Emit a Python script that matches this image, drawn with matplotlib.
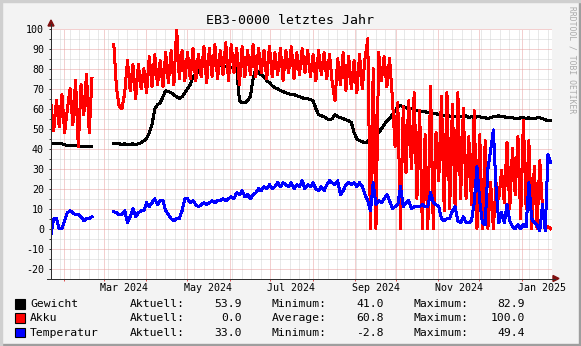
import numpy as np
import pandas as pd
import matplotlib
matplotlib.use('Agg')
import matplotlib.pyplot as plt
import matplotlib.dates as mdates
from matplotlib.lines import Line2D
from matplotlib.patches import Polygon, Rectangle
from matplotlib.ticker import NullFormatter
from matplotlib.transforms import blended_transform_factory

nan = np.nan
W, H = 581, 346
MONO = 'DejaVu Sans Mono'

# Messwerte alle 2 Tage ab 22.01.2024
start = '2024-01-22 06:00'
gewicht = [
    42.7, 42.5, 42.5, 42.5, 42.5, 42.0, 41.5, 41.5, 41.5, 41.5,
    41.5, 41.0, 41.0, 41.0, 41.0, 41.0, nan, nan, nan, nan,
    nan, nan, nan, 42.5, 42.5, 42.5, 42.0, 42.5, 42.0, 42.0,
    42.5, 42.0, 42.5, 43.0, 44.0, 45.0, 48.0, 52.0, 60.0, 62.0,
    63.0, 66.0, 69.0, 68.5, 68.0, 67.0, 66.0, 65.0, 66.0, 68.0,
    70.0, 72.0, 76.0, 77.0, 79.0, 81.0, 82.0, 82.5, 82.9, 82.5,
    82.0, 82.0, 81.5, 81.5, 81.0, 81.0, 80.5, 80.5, 80.0, 64.0,
    63.0, 63.0, 64.0, 66.0, 75.0, 80.0, 78.0, 77.0, 76.0, 74.0,
    73.0, 71.5, 70.5, 70.0, 69.0, 68.5, 68.0, 67.5, 67.0, 67.0,
    66.5, 66.0, 65.5, 65.0, 65.0, 64.5, 64.0, 60.0, 57.0, 56.5,
    56.0, 55.0, 54.5, 55.0, 57.0, 56.0, 55.5, 55.0, 54.5, 54.0,
    53.0, 48.0, 45.0, 44.0, 43.5, 43.0, 43.5, 45.0, 47.0, 47.5,
    48.0, 50.0, 52.0, 54.0, 55.0, 57.0, 59.0, 61.0, 61.5, 61.0,
    60.5, 60.0, 60.0, 59.5, 59.0, 59.0, 58.5, 58.5, 58.0, 58.0,
    57.5, 57.5, 57.0, 57.0, 56.5, 57.0, 56.0, 56.5, 56.0, 56.5,
    56.0, 56.0, 56.5, 55.5, 56.0, 55.5, 56.0, 56.0, 55.5, 55.5,
    55.0, 55.5, 56.0, 56.0, 56.5, 56.0, 56.0, 55.5, 55.5, 55.5,
    55.0, 55.0, 55.5, 55.5, 55.0, 55.5, 55.0, 55.0, 55.5, 55.5,
    55.0, 54.5, 54.0, 53.9,
]
akku = [
    62, 49, 64, 51, 67, 48, 60, 70, 52, 74,
    41, 72, 57, 77, 48, 75, nan, nan, nan, nan,
    nan, nan, nan, 92, 70, 61, 60, 68, 84, 69,
    82, 65, 82, 70, 80, 68, 86, 71, 87, 72,
    84, 71, 88, 73, 89, 72, 100, 75, 89, 74,
    88, 75, 90, 74, 87, 76, 91, 73, 90, 76,
    92, 75, 89, 77, 93, 74, 92, 78, 90, 72,
    91, 76, 89, 77, 92, 76, 90, 78, 89, 75,
    91, 76, 88, 77, 90, 74, 89, 78, 91, 75,
    88, 77, 90, 78, 89, 76, 87, 74, 89, 77,
    88, 75, 87, 73, 64, 85, 72, 88, 69, 86,
    70, 84, 68, 87, 70, 85, 95, 0, 80, 0,
    88, 74, 86, 71, 85, 66, 41, 63, 0, 61,
    28, 64, 30, 68, 15, 59, 0, 47, 0, 71,
    0, 48, 24, 66, 9, 68, 10, 62, 10, 68,
    15, 60, 15, 46, 12, 59, 0, 47, 0, 44,
    0, 23, 0, 23, 15, 29, 13, 43, 10, 40,
    17, 46, 5, 54, 10, 44, 0, 31, 0, 34,
    10, 0, 1, 0.0,
]
temperatur = [
    -2.8, 5, 5, 0, 0, 4, 8, 9, 8, 7,
    7, 6, 4, 5, 5, 6, nan, nan, nan, nan,
    nan, nan, nan, 8.5, 8, 7, 7, 9, 3, 6,
    10, 6, 8, 9, 9, 13, 11, 13, 15, 12,
    14, 14, 9, 7, 5, 4, 5, 5, 9, 15,
    15, 13, 14, 12, 11, 12, 13, 12, 13, 14,
    13, 14, 14, 15, 14, 15, 16, 15, 18, 17,
    19, 16, 17, 15, 17, 18, 20, 19, 21, 20,
    22, 20, 21, 23, 21, 23, 22, 21, 23, 20,
    22, 21, 24, 20, 22, 21, 23, 20, 19, 21,
    19, 22, 24, 23, 22, 24, 17, 19, 22, 23,
    22, 23, 21, 23, 21, 17, 14, 9, 23, 12,
    14, 13, 15, 17, 14, 10, 11, 12, 21, 11,
    13, 14, 10, 11, 11, 11, 12, 11, 11, 18,
    13, 12, 11, 5, 4, 5, 5, 9, 11, 4,
    3, 6, 3, 3, 4, 13, 31, 14, 3, 2,
    30, 39, 49.4, 20, 3, 8, 3, 12, 4, 1,
    0, 2, 0, 2, 1, 23, 5, 3, 2, -1,
    12, -1, 37, 33.0,
]
akku_average = 60.8

monate = ['Mar 2024', 'May 2024', 'Jul 2024', 'Sep 2024', 'Nov 2024', 'Jan 2025']
monat_start = ['2024-03-01', '2024-05-01', '2024-07-01', '2024-09-01', '2024-11-01', '2025-01-01']

namen = ['Gewicht', 'Akku', 'Temperatur']
farben = ['#000000', '#FF0000', '#0000FF']


def fig_xy(x, y):
    # Pixel (oben links) -> Figure-Koordinaten
    return x / W, 1 - y / H


fig = plt.figure(figsize=(W / 100, H / 100), dpi=100)
fig.patch.set_facecolor('#F3F3F3')
ax = fig.add_axes([51 / W, 1 - 278.7 / H, 500.7 / W, 250 / H])
ax.set_facecolor('white')

tage = pd.date_range(start, periods=len(gewicht), freq='2D')
for i, werte in enumerate([gewicht, akku, temperatur]):
    ax.plot(tage, np.array(werte, dtype=float), color=farben[i], lw=1.44,
            antialiased=False, zorder=3 + i)

ax.set_xlim(pd.Timestamp('2024-01-22 06:00'), pd.Timestamp('2025-01-22 23:30'))
ax.set_ylim(-25, 100)

ax.xaxis.set_major_locator(mdates.MonthLocator())
ax.xaxis.set_minor_locator(mdates.WeekdayLocator(byweekday=mdates.MO))
ax.xaxis.set_major_formatter(NullFormatter())
ax.set_yticks(range(-20, 101, 10))
ax.set_yticks(range(-15, 100, 10), minor=True)
ax.set_yticklabels([str(v) for v in range(-20, 101, 10)], family=MONO, fontsize=7.2)

ax.set_axisbelow(True)
ax.grid(which='minor', color='#D2D2D2', ls=(0, (1, 1)), lw=0.72)
ax.grid(which='major', color='#E9A0A0', ls=(0, (1, 1)), lw=0.72)
ax.tick_params(axis='x', which='major', length=1.5, width=0.72, color='#E05050')
ax.tick_params(axis='x', which='minor', length=0)
ax.tick_params(axis='y', which='both', length=1.5, width=0.72, color='#303030', pad=3.6)
for s in ax.spines.values():
    s.set_visible(False)

# Achsen mit Pfeilen
fig.add_artist(Line2D([51 / W, 51 / W], [1 - 279 / H, 1 - 24 / H], color='#303030', lw=0.72))
fig.add_artist(Line2D([47 / W, 555 / W], [1 - 278.5 / H, 1 - 278.5 / H], color='#303030', lw=0.72))
fig.add_artist(Polygon([fig_xy(48, 26), fig_xy(54, 26), fig_xy(51, 20)], closed=True,
                       transform=fig.transFigure, color='#7F1010'))
fig.add_artist(Polygon([fig_xy(553, 275.5), fig_xy(553, 281.5), fig_xy(559, 278.5)], closed=True,
                       transform=fig.transFigure, color='#7F1010'))

# Monatsbeschriftung
trans = blended_transform_factory(ax.transData, fig.transFigure)
for label, m in zip(monate, monat_start):
    ax.text(pd.Timestamp(m) + pd.Timedelta(days=15), 1 - 288 / H, label, transform=trans,
            ha='center', va='center', family=MONO, fontsize=7.2)

fig.text(290 / W, 1 - 20 / H, 'EB3-0000 letztes Jahr', ha='center', va='center',
         family=MONO, fontsize=9.5)
fig.text(572 / W, 1 - 60 / H, 'RRDTOOL / TOBI OETIKER', ha='center', va='center',
         rotation=270, family=MONO, fontsize=5.8, color='#AAAAAA')

# Legende
serien = [gewicht, akku, temperatur]
stat_namen = [('Aktuell:', 'Minimum:', 'Maximum:'),
              ('Aktuell:', 'Average:', 'Maximum:'),
              ('Aktuell:', 'Minimum:', 'Maximum:')]
zeilen_y = [304, 318, 332.5]
for i, name in enumerate(namen):
    werte = np.array(serien[i], dtype=float)
    mitte = akku_average if i == 1 else np.nanmin(werte)
    stats = [werte[-1], mitte, np.nanmax(werte)]
    y = zeilen_y[i]
    fig.add_artist(Rectangle(fig_xy(15, y + 4.5), 9.5 / W, 9.5 / H, transform=fig.transFigure,
                             facecolor=farben[i], edgecolor='black', lw=0.8))
    fig.text(30 / W, 1 - y / H, name, ha='left', va='center', family=MONO, fontsize=8.2)
    for label_x, wert_x, label, wert in zip([130, 272, 413.5], [241.5, 383.5, 525],
                                            stat_namen[i], stats):
        fig.text(label_x / W, 1 - y / H, label, ha='left', va='center', family=MONO, fontsize=8.2)
        fig.text(wert_x / W, 1 - y / H, '%.1f' % wert, ha='right', va='center',
                 family=MONO, fontsize=8.2)

# Rahmen
fig.add_artist(Rectangle((0, 0), 1, 2 / H, transform=fig.transFigure, color='#9E9E9E'))
fig.add_artist(Rectangle((1 - 2 / W, 0), 2 / W, 1, transform=fig.transFigure, color='#9E9E9E'))
fig.add_artist(Rectangle((0, 1 - 2 / H), 1, 2 / H, transform=fig.transFigure, color='#CFCFCF'))
fig.add_artist(Rectangle((0, 0), 2 / W, 1, transform=fig.transFigure, color='#CFCFCF'))

fig.savefig('out.png', dpi=100, facecolor=fig.get_facecolor())
